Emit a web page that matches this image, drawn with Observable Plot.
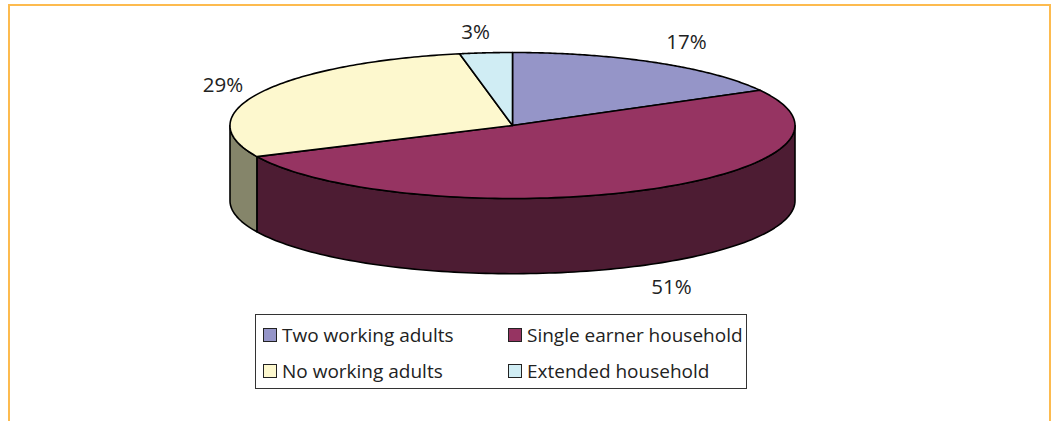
<!DOCTYPE html>
<html>
<head>
<meta charset="utf-8">
<script src="https://cdn.jsdelivr.net/npm/d3@7"></script>
<script src="https://cdn.jsdelivr.net/npm/@observablehq/plot@0.6"></script>
<style>
  html, body { margin: 0; padding: 0; background: #fff; overflow: hidden; }
  body { width: 1052px; height: 421px; position: relative; font-family: "Open Sans", sans-serif; }
  #frame { position: absolute; left: 8px; top: 4px; right: 1px; bottom: -4px;
           border: 2px solid #fdbb4f; }
  #chart { position: absolute; left: 0; top: 0; }
  #chart svg { display: block; background: transparent; }
  #legend { position: absolute; left: 255px; top: 314px; width: 490px; height: 73px;
            border: 1.5px solid #333; box-sizing: content-box; background: #fff;
            color: #222; font-size: 19px; line-height: 24px; }
  .entry { position: absolute; display: flex; align-items: center; white-space: nowrap; }
  .swatch { width: 12px; height: 12px; border: 1.5px solid #222; margin-right: 5px; flex: none; }
</style>
</head>
<body>
<div id="frame"></div>
<div id="chart"></div>
<div id="legend"></div>
<script>
// Household composition, in percent, clockwise from twelve o'clock.
const categories = ["Two working adults", "Single earner household", "No working adults", "Extended household"];
const shares = [17, 51, 29, 3];
const topColors = ["#9595c8", "#963462", "#fdf8ce", "#d0edf4"];
const sideColors = ["#4b4b64", "#4d1c33", "#85856a", "#66767a"];

// Radial placement of each percent label, relative to the unit ellipse.
const labelReach = [[1.21, 1.32], [1.24, 1.33], [1.15, 1.21], [1.39, 1.275]];
// Height of the pie's wall in the same units as the ellipse's vertical radius.
const depth = 1.03;

const total = d3.sum(shares);
const starts = d3.cumsum([0, ...shares]);
const turn = (p) => (p / total) * 2 * Math.PI;
const rim = (a, drop = 0) => ({ x: Math.sin(a), y: -Math.cos(a) + drop });
const arc = (a0, a1) => d3.range(0, 121).map((i) => a0 + ((a1 - a0) * i) / 120);

// Top faces: centre point plus the rim arc of each slice.
const faces = categories.flatMap((name, i) => [
  { name, x: 0, y: 0 },
  ...arc(turn(starts[i]), turn(starts[i + 1])).map((a) => ({ name, ...rim(a) }))
]);

// Walls: only the part of each slice on the front half of the ellipse is visible.
const walls = categories.flatMap((name, i) => {
  const a0 = Math.max(turn(starts[i]), Math.PI / 2);
  const a1 = Math.min(turn(starts[i + 1]), (3 * Math.PI) / 2);
  if (a1 <= a0) return [];
  const angles = arc(a0, a1);
  return [
    ...angles.map((a) => ({ name, ...rim(a) })),
    ...angles.slice().reverse().map((a) => ({ name, ...rim(a, depth) }))
  ];
});

const labels = categories.map((name, i) => {
  const mid = turn((starts[i] + starts[i + 1]) / 2);
  const p = rim(mid);
  return {
    text: `${shares[i]}%`,
    x: p.x * labelReach[i][0],
    y: p.y * labelReach[i][1] + (p.y > 0 ? depth : 0)
  };
});

const chart = Plot.plot({
  width: 1052,
  height: 308,
  margin: 0,
  x: { domain: [-1, 1], range: [229.5, 794.5], axis: null },
  y: { domain: [-1, 1], range: [52, 198], axis: null },
  color: { domain: categories, range: topColors },
  marks: [
    Plot.line(walls, {
      x: "x", y: "y", z: "name",
      fill: (d) => sideColors[categories.indexOf(d.name)],
      stroke: "#000", strokeWidth: 1.6, curve: "linear-closed"
    }),
    Plot.line(faces, {
      x: "x", y: "y", z: "name", fill: "name",
      stroke: "#000", strokeWidth: 1.6, curve: "linear-closed"
    }),
    Plot.text(labels, {
      x: "x", y: "y", text: "text",
      fontSize: 20.5, fill: "#222", fontFamily: '"Open Sans", sans-serif'
    })
  ]
});
document.getElementById("chart").append(chart);

// Two-column key underneath the pie.
const legend = d3.select("#legend");
const cells = [[7, 8], [252, 8], [7, 44], [252, 44]];
categories.forEach((name, i) => {
  const entry = legend.append("div").attr("class", "entry")
    .style("left", cells[i][0] + "px").style("top", cells[i][1] + "px");
  entry.append("span").attr("class", "swatch").style("background", topColors[i]);
  entry.append("span").text(name);
});
</script>
</body>
</html>
